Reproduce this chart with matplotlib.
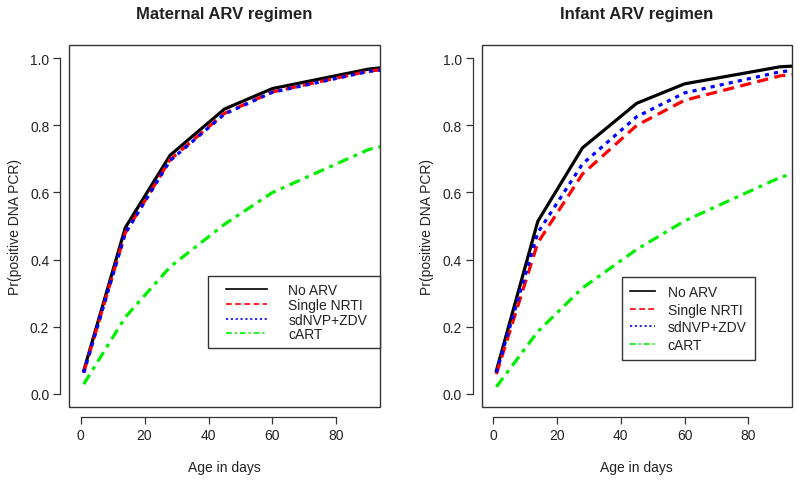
import matplotlib.pyplot as plt
from matplotlib.patches import Rectangle
from matplotlib.legend_handler import HandlerLine2D
from matplotlib import rcParams

rcParams['font.family'] = ['Liberation Sans', 'DejaVu Sans']
rcParams['font.size'] = 10
rcParams['text.color'] = '#222222'
rcParams['axes.labelcolor'] = '#222222'
rcParams['xtick.color'] = '#333333'
rcParams['ytick.color'] = '#333333'
rcParams['xtick.labelcolor'] = '#222222'
rcParams['ytick.labelcolor'] = '#222222'

# data (probability of positive DNA PCR by age)
days = [1, 14, 28, 45, 60, 90, 94]

maternal_none = [0.068, 0.495, 0.711, 0.849, 0.910, 0.968, 0.972]
maternal_nrti = [0.063, 0.480, 0.698, 0.836, 0.900, 0.962, 0.966]
maternal_sdnvp = [0.062, 0.478, 0.695, 0.834, 0.899, 0.961, 0.965]
maternal_cart = [0.028, 0.228, 0.378, 0.505, 0.600, 0.728, 0.737]

infant_none = [0.068, 0.514, 0.733, 0.866, 0.924, 0.975, 0.977]
infant_nrti = [0.058, 0.450, 0.655, 0.800, 0.875, 0.948, 0.952]
infant_sdnvp = [0.063, 0.480, 0.685, 0.826, 0.897, 0.960, 0.964]
infant_cart = [0.020, 0.185, 0.315, 0.430, 0.515, 0.645, 0.656]

labels = ['No ARV', 'Single NRTI', 'sdNVP+ZDV', 'cART']
xticks = [0, 20, 40, 60, 80]
yticks = [0.0, 0.2, 0.4, 0.6, 0.8, 1.0]

styles = [
    dict(color='black', linestyle='-'),
    dict(color='#ff0000', linestyle=(0, (3.5, 2.0))),
    dict(color='#0000ff', linestyle=(0, (1.3, 1.6))),
    dict(color='#00ee00', linestyle=(0, (3.5, 1.8, 1.2, 1.8))),
]

fig = plt.figure(figsize=(8, 4.81), dpi=100)
ax1 = fig.add_axes([0.08625, 0.1518, 0.38875, 0.7526])
ax2 = fig.add_axes([0.6021, 0.1518, 0.3875, 0.7526])


def panel(ax, title, series):
    lines = []
    for ys, st in zip(series, styles):
        ln, = ax.plot(days, ys, lw=2.3, **st)
        lines.append(ln)

    ax.set_xlim(-3.6, 93.6)
    ax.set_ylim(-0.04, 1.04)
    ax.set_xticks(xticks)
    ax.set_yticks(yticks)
    ax.set_yticklabels(['%.1f' % v for v in yticks], rotation=90, va='center')

    # R style: detached axes plus a box around the plot region
    for s in ['top', 'right']:
        ax.spines[s].set_visible(False)
    ax.spines['bottom'].set_position(('outward', 7.4))
    ax.spines['left'].set_position(('outward', 6.2))
    ax.spines['bottom'].set_bounds(0, 80)
    ax.spines['left'].set_bounds(0, 1)
    for s in ['bottom', 'left']:
        ax.spines[s].set_color('#333333')
        ax.spines[s].set_linewidth(0.9)
    ax.tick_params(length=5, width=0.9, pad=3)
    ax.add_patch(Rectangle((0, 0), 1, 1, transform=ax.transAxes, fill=False,
                           ec='#333333', lw=1.0, clip_on=False, zorder=5))

    ax.set_title(title, fontsize=12, fontweight='bold', pad=19.5)
    ax.set_xlabel('Age in days', labelpad=13)
    ax.set_ylabel('Pr(positive DNA PCR)', labelpad=6)
    return lines


lines1 = panel(ax1, 'Maternal ARV regimen',
               [maternal_none, maternal_nrti, maternal_sdnvp, maternal_cart])
lines2 = panel(ax2, 'Infant ARV regimen',
               [infant_none, infant_nrti, infant_sdnvp, infant_cart])

h1 = [plt.Line2D([], [], lw=1.2, **st) for st in styles]
h2 = [plt.Line2D([], [], lw=1.2, **st) for st in styles]

leg1 = ax1.legend(h1, labels, loc='upper left', bbox_to_anchor=(0.448, 0.161, 0.552, 0.2),
                  mode='expand', borderpad=0.5, handlelength=4.5, handletextpad=0.75,
                  labelspacing=0.05, borderaxespad=0, fancybox=False, framealpha=1,
                  handler_map={plt.Line2D: HandlerLine2D(marker_pad=0.75, numpoints=2)})
leg2 = ax2.legend(h2, labels, loc='upper left', bbox_to_anchor=(0.4522, 0.359),
                  borderpad=0.6, handlelength=1.8, handletextpad=0.9,
                  labelspacing=0.25, borderaxespad=0, fancybox=False, framealpha=1)
for leg in [leg1, leg2]:
    leg.get_frame().set_edgecolor('#333333')
    leg.get_frame().set_linewidth(1.0)

fig.savefig('out.png', dpi=100)
